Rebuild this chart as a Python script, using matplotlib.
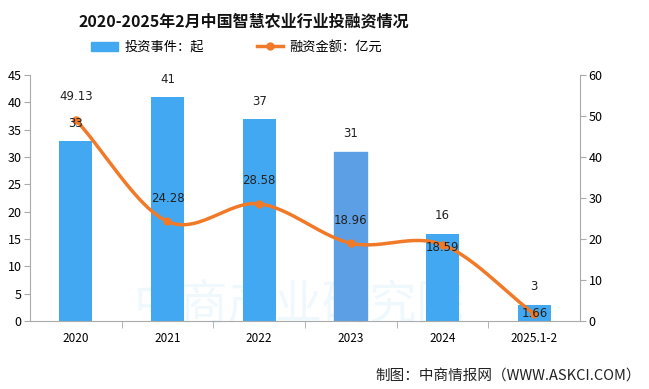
import numpy as np
import matplotlib.pyplot as plt
from matplotlib.lines import Line2D
from matplotlib.patches import Patch

plt.rcParams['font.family'] = ['Noto Sans CJK SC', 'DejaVu Sans']

# 数据
years = ['2020', '2021', '2022', '2023', '2024', '2025.1-2']
events = [33, 41, 37, 31, 16, 3]
amounts = [49.13, 24.28, 28.58, 18.96, 18.59, 1.66]

bar_color = '#42a8f2'
line_color = '#f07a28'


def smooth(xs, ys, n=30):
    # Catmull-Rom 平滑曲线
    xs = np.asarray(xs, float)
    ys = np.asarray(ys, float)
    px = np.concatenate([[2 * xs[0] - xs[1]], xs, [2 * xs[-1] - xs[-2]]])
    py = np.concatenate([[2 * ys[0] - ys[1]], ys, [2 * ys[-1] - ys[-2]]])
    outx, outy = [], []
    t = np.linspace(0, 1, n)
    for i in range(1, len(px) - 2):
        for p, o in ((px, outx), (py, outy)):
            p0, p1, p2, p3 = p[i - 1], p[i], p[i + 1], p[i + 2]
            o.extend(0.5 * (2 * p1 + (-p0 + p2) * t
                            + (2 * p0 - 5 * p1 + 4 * p2 - p3) * t ** 2
                            + (-p0 + 3 * p1 - 3 * p2 + p3) * t ** 3))
    return np.array(outx), np.array(outy)


fig = plt.figure(figsize=(6.49, 3.89), dpi=100)
ax = fig.add_axes([0.046, 0.175, 0.848, 0.632])
x = np.arange(len(years))

# 水印（在柱子下面）
ax.text(0.46, 0.215, '中商产业研究院', transform=fig.transFigure, ha='center',
        va='center', fontsize=34, color='#eff9fd', zorder=1)

bars = ax.bar(x, events, width=0.36, color=bar_color, zorder=2)
bars[3].set_color('#5c9fe4')

ax.set_xlim(-0.5, len(years) - 0.5)
ax.set_ylim(0, 45)
ax.set_yticks(range(0, 46, 5))
ax.set_xticks(x)
ax.set_xticklabels(years)
ax.set_xticks(np.arange(0.5, len(years) - 0.5, 1), minor=True)
ax.tick_params(axis='x', which='major', length=0, pad=8)
ax.tick_params(axis='x', which='minor', length=5, color='#aaaaaa')
ax.tick_params(axis='y', length=4, color='#aaaaaa', labelsize=9, pad=2)
ax.tick_params(axis='x', labelsize=8.5)
for s in ['top', 'right']:
    ax.spines[s].set_visible(False)
for s in ['left', 'bottom']:
    ax.spines[s].set_color('#aaaaaa')

ax2 = ax.twinx()
ax2.set_ylim(0, 60)
ax2.set_yticks(range(0, 61, 10))
ax2.tick_params(axis='y', length=4, color='#aaaaaa', labelsize=9, pad=2)
for s in ['top', 'left', 'bottom']:
    ax2.spines[s].set_visible(False)
ax2.spines['right'].set_color('#aaaaaa')

sx, sy = smooth(x, amounts)
ax2.plot(sx, sy, color=line_color, lw=2.5, zorder=3)
ax2.plot(x, amounts, 'o', color=line_color, ms=5, zorder=4)

# 柱子标签放在上层坐标轴，使其压在折线上
for xi, v in zip(x, events):
    ax2.annotate(str(v), (xi, v), xycoords=ax.transData, xytext=(0, 8),
                 textcoords='offset points', ha='center', va='bottom',
                 fontsize=8.5, family='DejaVu Sans', color='#222222', zorder=5)

for i, (xi, v) in enumerate(zip(x, amounts)):
    dy = 12
    if i == 4:
        dy = -7
    elif i == 5:
        dy = -4
    ax2.annotate(f'{v:.2f}', (xi, v), xytext=(0, dy), textcoords='offset points',
                 ha='center', va='bottom', fontsize=8.5, family='DejaVu Sans',
                 color='#222222', zorder=5)

fig.text(0.375, 0.945, '2020-2025年2月中国智慧农业行业投融资情况', ha='center',
         va='center', fontsize=11.5, fontweight='bold', color='#111111')

handles = [Patch(color=bar_color, label='投资事件：起'),
           Line2D([0], [0], color=line_color, lw=2.5, marker='o', ms=5,
                  label='融资金额：亿元')]
fig.legend(handles=handles, loc='center', bbox_to_anchor=(0.365, 0.878), ncol=2,
           frameon=False, fontsize=9.5, handlelength=2.0, handletextpad=0.5,
           columnspacing=4.0)

fig.text(0.988, 0.035, '制图：中商情报网（WWW.ASKCI.COM）', ha='right',
         va='center', fontsize=10.5, color='#222222')

fig.savefig('out.png', dpi=100)
